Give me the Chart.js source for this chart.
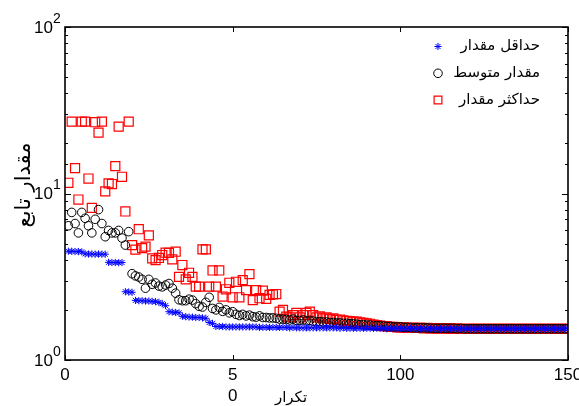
<!DOCTYPE html>
<html>
<head>
<meta charset="utf-8">
<script src="https://cdn.jsdelivr.net/npm/chart.js@4"></script>
<style>
html,body{margin:0;padding:0;background:#fff;}
</style>
</head>
<body>
<canvas id="myChart" width="579" height="406"></canvas>
<script>
// series values, one per iteration (1..150)
var minVals = [
  4.5, 4.5, 4.48, 4.48, 4.46, 4.34, 4.33, 4.33, 4.32, 4.33,
  4.32, 4.32, 3.86, 3.85, 3.85, 3.84, 3.85, 2.57, 2.56, 2.55,
  2.28, 2.27, 2.27, 2.26, 2.26, 2.25, 2.24, 2.22, 2.18, 2.12,
  1.95, 1.94, 1.93, 1.92, 1.83, 1.82, 1.81, 1.81, 1.8, 1.8,
  1.79, 1.78, 1.68, 1.66, 1.59, 1.59, 1.59, 1.58, 1.58, 1.58,
  1.58, 1.58, 1.58, 1.58, 1.58, 1.58, 1.58, 1.57, 1.57, 1.57,
  1.57, 1.57, 1.57, 1.57, 1.57, 1.57, 1.56, 1.57, 1.56, 1.56,
  1.56, 1.56, 1.56, 1.56, 1.56, 1.56, 1.56, 1.56, 1.56, 1.56,
  1.56, 1.55, 1.56, 1.55, 1.55, 1.55, 1.55, 1.55, 1.55, 1.55,
  1.55, 1.55, 1.55, 1.55, 1.55, 1.54, 1.55, 1.55, 1.54, 1.55,
  1.54, 1.54, 1.55, 1.54, 1.54, 1.54, 1.54, 1.54, 1.54, 1.54,
  1.54, 1.54, 1.54, 1.54, 1.54, 1.54, 1.54, 1.54, 1.54, 1.54,
  1.54, 1.54, 1.54, 1.54, 1.54, 1.54, 1.54, 1.54, 1.54, 1.54,
  1.54, 1.54, 1.54, 1.54, 1.54, 1.54, 1.54, 1.54, 1.54, 1.54,
  1.54, 1.54, 1.54, 1.54, 1.54, 1.54, 1.54, 1.54, 1.54, 1.54
];
var meanVals = [
  6.4, 7.7, 6.6, 5.8, 7.7, 7.1, 6.4, 5.8, 7.0, 8.0,
  6.6, 5.5, 6.0, 5.8, 5.8, 6.0, 5.4, 4.9, 5.9, 3.3,
  3.2, 3.15, 3.05, 2.7, 3.05, 2.85, 2.9, 2.78, 2.75, 2.82,
  2.88, 2.7, 2.52, 2.3, 2.27, 2.27, 2.32, 2.29, 2.18, 2.1,
  2.08, 2.22, 2.38, 2.04, 2.0, 2.07, 1.96, 2.0, 1.92, 1.95,
  1.88, 1.85, 1.88, 1.84, 1.86, 1.82, 1.81, 1.84, 1.8, 1.8,
  1.79, 1.79, 1.78, 1.76, 1.76, 1.75, 1.74, 1.76, 1.73, 1.73,
  1.74, 1.72, 1.73, 1.71, 1.7, 1.7, 1.69, 1.69, 1.68, 1.68,
  1.67, 1.67, 1.66, 1.66, 1.65, 1.65, 1.64, 1.63, 1.63, 1.62,
  1.62, 1.61, 1.61, 1.6, 1.6, 1.59, 1.59, 1.58, 1.58, 1.58,
  1.57, 1.57, 1.57, 1.56, 1.56, 1.56, 1.56, 1.56, 1.55, 1.55,
  1.55, 1.55, 1.55, 1.55, 1.55, 1.55, 1.54, 1.55, 1.54, 1.54,
  1.54, 1.54, 1.54, 1.54, 1.54, 1.54, 1.54, 1.54, 1.54, 1.54,
  1.54, 1.54, 1.54, 1.54, 1.54, 1.54, 1.54, 1.54, 1.54, 1.54,
  1.54, 1.54, 1.54, 1.54, 1.54, 1.54, 1.54, 1.54, 1.54, 1.54
];
var maxVals = [
  11.6, 27, 14.2, 9.2, 27, 27, 12.3, 8.2, 26.8, 23.2,
  27, 10.3, 11.5, 11.4, 14.6, 25.2, 12.6, 7.8, 27, 4.9,
  4.6, 6.1, 4.7, 4.8, 5.6, 4.08, 3.98, 4.1, 4.27, 4.41,
  4.4, 4.02, 4.47, 3.16, 3.72, 3.05, 3.34, 3.16, 2.76, 2.76,
  4.62, 4.62, 2.76, 3.45, 2.76, 3.45, 2.4, 2.66, 2.91, 2.38,
  2.95, 2.38, 3.02, 2.63, 3.28, 2.29, 2.63, 2.35, 2.61, 2.33,
  2.46, 2.48, 2.49, 1.95, 2.0, 1.82, 1.8, 1.86, 1.92, 1.8,
  1.86, 1.92, 1.95, 1.86, 1.8, 1.83, 1.78, 1.8, 1.76, 1.78,
  1.74, 1.75, 1.73, 1.72, 1.71, 1.7, 1.7, 1.68, 1.67, 1.66,
  1.65, 1.63, 1.62, 1.61, 1.6, 1.59, 1.58, 1.58, 1.57, 1.57,
  1.57, 1.56, 1.56, 1.56, 1.56, 1.56, 1.55, 1.56, 1.55, 1.55,
  1.55, 1.55, 1.55, 1.55, 1.54, 1.55, 1.54, 1.54, 1.54, 1.54,
  1.54, 1.54, 1.54, 1.54, 1.54, 1.54, 1.54, 1.54, 1.54, 1.54,
  1.54, 1.54, 1.54, 1.54, 1.54, 1.54, 1.54, 1.54, 1.54, 1.54,
  1.54, 1.54, 1.54, 1.54, 1.54, 1.54, 1.54, 1.54, 1.54, 1.54
];
var seriesNames = ['حداقل مقدار', 'مقدار متوسط', 'حداکثر مقدار'];
var xTickValues = [0, 50, 100, 150];
var xTickLabels = ['0', ['5', '0'], '100', '150'];
var yTickValues = [1, 10, 100];
var yTickExp = ['0', '1', '2'];
var xTitle = 'تکرار';
var yTitle = 'مقدار تابع';

function pts(vals) { return vals.map(function(v, i) { return { x: i + 1, y: v }; }); }

var styles = [
  { pointStyle: 'star', radius: 3.6, borderColor: '#0000ff', borderWidth: 1 },
  { pointStyle: 'circle', radius: 4.3, borderColor: '#000000', borderWidth: 1 },
  { pointStyle: 'rect', radius: 6.4, borderColor: '#ff0000', borderWidth: 1.2 }
];
var allVals = [minVals, meanVals, maxVals];

var datasets = allVals.map(function(vals, k) {
  var s = styles[k];
  return {
    label: seriesNames[k],
    data: pts(vals),
    showLine: false,
    pointStyle: s.pointStyle,
    pointRadius: s.radius,
    pointBorderColor: s.borderColor,
    pointBackgroundColor: 'rgba(0,0,0,0)',
    pointBorderWidth: s.borderWidth
  };
});

// frame, inner ticks, y labels, titles, legend
var extras = {
  id: 'extras',
  afterDraw: function(chart) {
    var ctx = chart.ctx, a = chart.chartArea;
    var xs = chart.scales.x, ys = chart.scales.y;
    ctx.save();
    ctx.strokeStyle = '#000';
    ctx.lineWidth = 1;
    ys.ticks.forEach(function(t) {
      var y = Math.round(ys.getPixelForValue(t.value)) + 0.5;
      var major = yTickValues.indexOf(t.value) >= 0;
      var len = major ? 6 : 3;
      ctx.beginPath();
      ctx.moveTo(a.left, y); ctx.lineTo(a.left + len, y);
      ctx.moveTo(a.right, y); ctx.lineTo(a.right - len, y);
      ctx.stroke();
    });
    xTickValues.forEach(function(v) {
      var x = Math.round(xs.getPixelForValue(v)) + 0.5;
      ctx.beginPath();
      ctx.moveTo(x, a.bottom); ctx.lineTo(x, a.bottom - 5);
      ctx.moveTo(x, a.top); ctx.lineTo(x, a.top + 5);
      ctx.stroke();
    });
    ctx.lineWidth = 1.6;
    ctx.strokeRect(a.left, a.top, a.right - a.left, a.bottom - a.top);

    // y tick labels 10^n
    ctx.fillStyle = '#000';
    ctx.textBaseline = 'middle';
    yTickValues.forEach(function(v, k) {
      var y = ys.getPixelForValue(v);
      ctx.font = '17px "Liberation Sans", Arial, sans-serif';
      ctx.textAlign = 'right';
      ctx.fillText('10', 53, y + 1);
      ctx.font = '14px "Liberation Sans", Arial, sans-serif';
      ctx.textAlign = 'left';
      ctx.fillText(yTickExp[k], 53, y - 8);
    });

    // axis titles
    ctx.font = '15px "DejaVu Sans", sans-serif';
    ctx.textAlign = 'center';
    ctx.fillText(xTitle, 291, 398);
    ctx.save();
    ctx.translate(25, 185);
    ctx.rotate(-Math.PI / 2);
    ctx.font = '21px "DejaVu Sans", sans-serif';
    ctx.fillText(yTitle, 0, 0);
    ctx.restore();

    // legend
    var ly = [46.5, 73.3, 100];
    styles.forEach(function(s, k) {
      ctx.strokeStyle = s.borderColor;
      ctx.fillStyle = 'rgba(0,0,0,0)';
      ctx.lineWidth = s.borderWidth;
      Chart.helpers.drawPoint(ctx, { pointStyle: s.pointStyle, radius: s.pointStyle === 'rect' ? 5.5 : s.radius, rotation: 0, borderWidth: s.borderWidth }, 438, ly[k]);
      ctx.fillStyle = '#000';
      ctx.font = '15px "DejaVu Sans", sans-serif';
      ctx.textAlign = 'right';
      ctx.fillText(seriesNames[k], 540, ly[k]);
    });
    ctx.restore();
  }
};

var myChart = new Chart(document.getElementById('myChart'), {
  type: 'scatter',
  data: { datasets: datasets },
  options: {
    responsive: false,
    animation: false,
    layout: { padding: { top: 27, right: 11, left: 0, bottom: 0 } },
    plugins: { legend: { display: false }, tooltip: { enabled: false } },
    scales: {
      x: {
        type: 'linear', min: 0, max: 150,
        grid: { display: false, drawTicks: false },
        border: { display: false },
        ticks: {
          stepSize: 50, autoSkip: false, maxRotation: 0, padding: 4, color: '#000',
          font: { family: '"Liberation Sans", Arial, sans-serif', size: 17, lineHeight: 1.28 },
          callback: function(v) { var i = xTickValues.indexOf(v); return i >= 0 ? xTickLabels[i] : ''; }
        },
        afterFit: function(s) { s.height = 46; s.paddingLeft = 0; s.paddingRight = 0; }
      },
      y: {
        type: 'logarithmic', min: 1, max: 100,
        grid: { display: false },
        border: { display: false },
        ticks: { display: false },
        afterFit: function(s) { s.width = 65; s.paddingTop = 0; s.paddingBottom = 0; }
      }
    }
  },
  plugins: [extras]
});
</script>
</body>
</html>
